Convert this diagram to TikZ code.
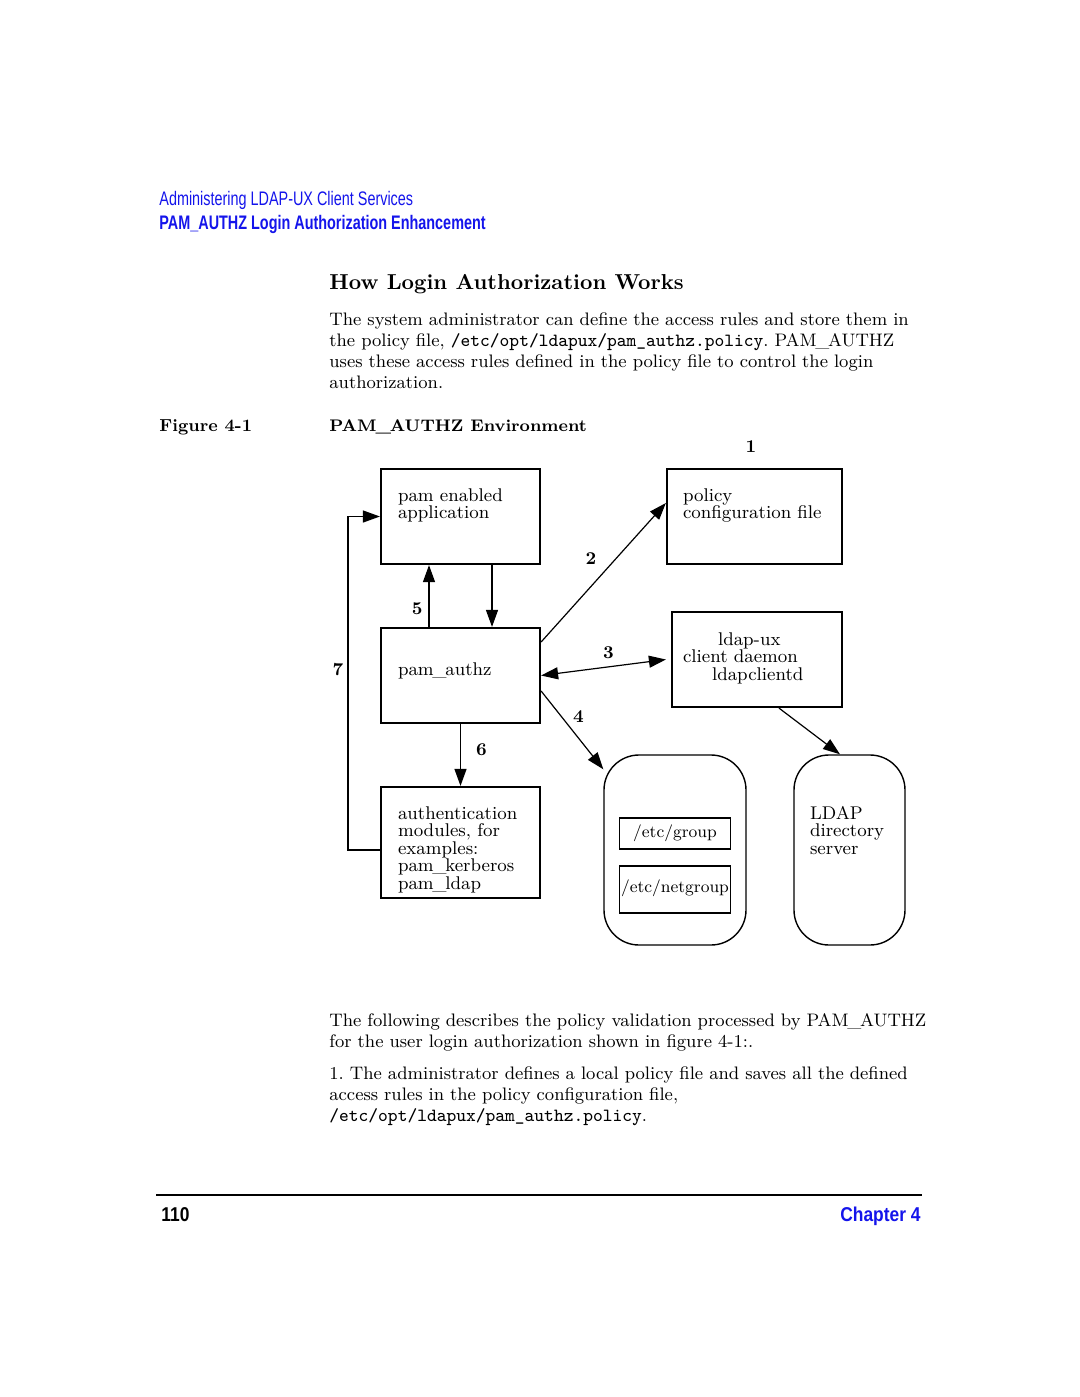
\documentclass[tikz,border=0pt]{standalone}
\usepackage{fontspec}
\usetikzlibrary{arrows.meta, positioning}
\newfontfamily\hpsans[FakeStretch=0.735]{Liberation Sans}
\newfontfamily\footsans[FakeStretch=0.87]{Liberation Sans}
\definecolor{hpblue}{RGB}{20,20,235}
\newcommand{\fpath}[1]{{\fontsize{9.3}{10.5}\selectfont\ttfamily #1}}
\newcommand{\uscore}{\kern-.07em\_\kern-.07em}
\frenchspacing

\begin{document}
\begin{tikzpicture}[x=0.5pt, y=-0.5pt, node distance=20pt, on grid,
    modbox/.style={draw, line width=1.1pt, align=left, inner xsep=8.5pt, inner ysep=0pt,
      font=\fontsize{9.2}{8.8}\selectfont},
    store/.style={draw, line width=0.7pt, rounded corners=17.5pt, inner sep=0pt},
    filebox/.style={draw, line width=0.6pt, inner sep=0pt, minimum width=55.5pt,
      font=\fontsize{8.5}{8.8}\selectfont},
    arr/.style={-{Triangle[length=8.5pt, width=6pt]}, line width=0.6pt},
    arr2/.style={{Triangle[length=8.5pt, width=6pt]}-{Triangle[length=8.5pt, width=6pt]}, line width=0.6pt},
    num/.style={font=\bfseries\fontsize{9}{10}\selectfont, inner sep=0pt},
    line/.style={anchor=base west, inner sep=0pt},
    body/.style={line, align=left, text width=330pt, font=\fontsize{9.05}{10.5}\selectfont}]
  \useasboundingbox (0,0) rectangle (1080,1397);

  % running head
  \node[line, text=hpblue, font=\hpsans\fontsize{9.8}{12}\selectfont] (hdrA) at (159,205)
    {Administering LDAP-UX Client Services};
  \node[line, text=hpblue, font=\hpsans\bfseries\fontsize{9.8}{12}\selectfont] (hdrB) at (159,229)
    {PAM\_AUTHZ Login Authorization Enhancement};

  \node[line, font=\bfseries\fontsize{10.8}{12}\selectfont] (title) at (329,289)
    {How Login Authorization Works};
  \node[body] (intro) at (329,325) {The system administrator can define the access rules and store them in\\
    the policy file, \fpath{/etc/opt/ldapux/pam\_authz.policy}. PAM\uscore AUTHZ\\
    uses these access rules defined in the policy file to control the login\\
    authorization.};
  \node[line, font=\bfseries\fontsize{8.7}{10}\selectfont] (figlbl) at (159,431) {Figure 4-1};
  \node[line, font=\bfseries\fontsize{8.4}{10}\selectfont] (figcap) at (329,431) {PAM\uscore AUTHZ Environment};

  % the figure
  \node[modbox, text width=62.5pt, text height=16pt, text depth=31.5pt] (app) at (460.5,516.5)
    {pam enabled\\application};
  \node[modbox, inner xsep=8pt, text width=71.5pt, text height=16pt, text depth=31.5pt,
    right=147pt of app] (policy) {policy\\configuration file};
  \node[modbox, text width=62.5pt, text height=23.5pt, text depth=24pt, below=79.5pt of app] (authz)
    {pam\uscore authz};
  \node[modbox, text width=62.5pt, text height=16pt, text depth=39.5pt, below=83.5pt of authz] (authmod)
    {authentication\\modules, for\\examples:\\pam\uscore kerberos\\pam\uscore ldap};
  \node[modbox, inner xsep=5.5pt, text width=74pt, text height=16.5pt, text depth=31pt,
    above right=8pt and 148.25pt of authz] (ldapd)
    {\hspace*{17.5pt}ldap-ux\\client daemon\\\hspace*{14.5pt}ldapclientd};
  \node[store, minimum width=71pt, minimum height=95pt, below right=3.75pt and 107.25pt of authmod] (files) {};
  \node[filebox, text height=9.5pt, text depth=6pt, above=8.25pt of files] (group) {/etc/group};
  \node[filebox, text height=13pt, text depth=10.5pt, below=19.75pt of files] (netgroup) {/etc/netgroup};
  \node[store, align=left, inner xsep=8pt, text width=39.5pt, text height=32pt, text depth=63pt,
    font=\fontsize{9.2}{8.8}\selectfont, right=87.25pt of files] (ldapsrv) {LDAP\\directory\\server};
  \node[num] (n1) at (751,447) {1};

  \path[arr]
    ([xshift=-15.75pt]authz.north) edge node[num, pos=0.3, anchor=east, xshift=-3pt] (n5) {5}
      ([xshift=-15.75pt]app.south)
    ([xshift=15.75pt]app.south) edge ([xshift=15.75pt]authz.north)
    ([yshift=16.75pt]authz.east) edge node[num, pos=0.6, anchor=east, xshift=-9.5pt] (n2) {2}
      ([yshift=6.75pt]policy.west)
    (authz.east) edge[arr2] node[num, pos=0.54, anchor=south, yshift=3.6pt] (n3) {3}
      ([xshift=-2.5pt]ldapd.west)
    ([yshift=-7.75pt]authz.east) edge node[num, pos=0.33, anchor=west, xshift=5.5pt] (n4) {4}
      ([yshift=-7.5pt]files.north west)
    (authz.south) edge node[num, pos=0.41, anchor=west, xshift=7.5pt] (n6) {6} (authmod.north)
    ([xshift=11pt]ldapd.south) edge ([xshift=-4.75pt]ldapsrv.north);
  \draw[arr] ([yshift=-3.75pt]authmod.west) -- ++(-16pt,0)
    |- node[num, pos=0.27, anchor=east, xshift=-2pt] (n7) {7} (app.west);

  \node[body] (desc) at (329,1026) {The following describes the policy validation processed by PAM\uscore AUTHZ\\
    for the user login authorization shown in figure 4-1:.};
  \node[body] (stepA) at (329,1079) {1. The administrator defines a local policy file and saves all the defined\\
    access rules in the policy configuration file,\\
    \fpath{/etc/opt/ldapux/pam\_authz.policy}.};

  % page foot
  \coordinate (ruleL) at (156,1195);
  \coordinate (ruleR) at (922,1195);
  \draw[line width=1.25pt] (ruleL) -- (ruleR);
  \node[line, font=\footsans\bfseries\fontsize{10}{12}\selectfont] (pagenum) at (161,1221) {110};
  \node[line, anchor=base east, text=hpblue, font=\footsans\bfseries\fontsize{10}{12}\selectfont] (chap)
    at (921,1221) {Chapter 4};
\end{tikzpicture}
\end{document}
